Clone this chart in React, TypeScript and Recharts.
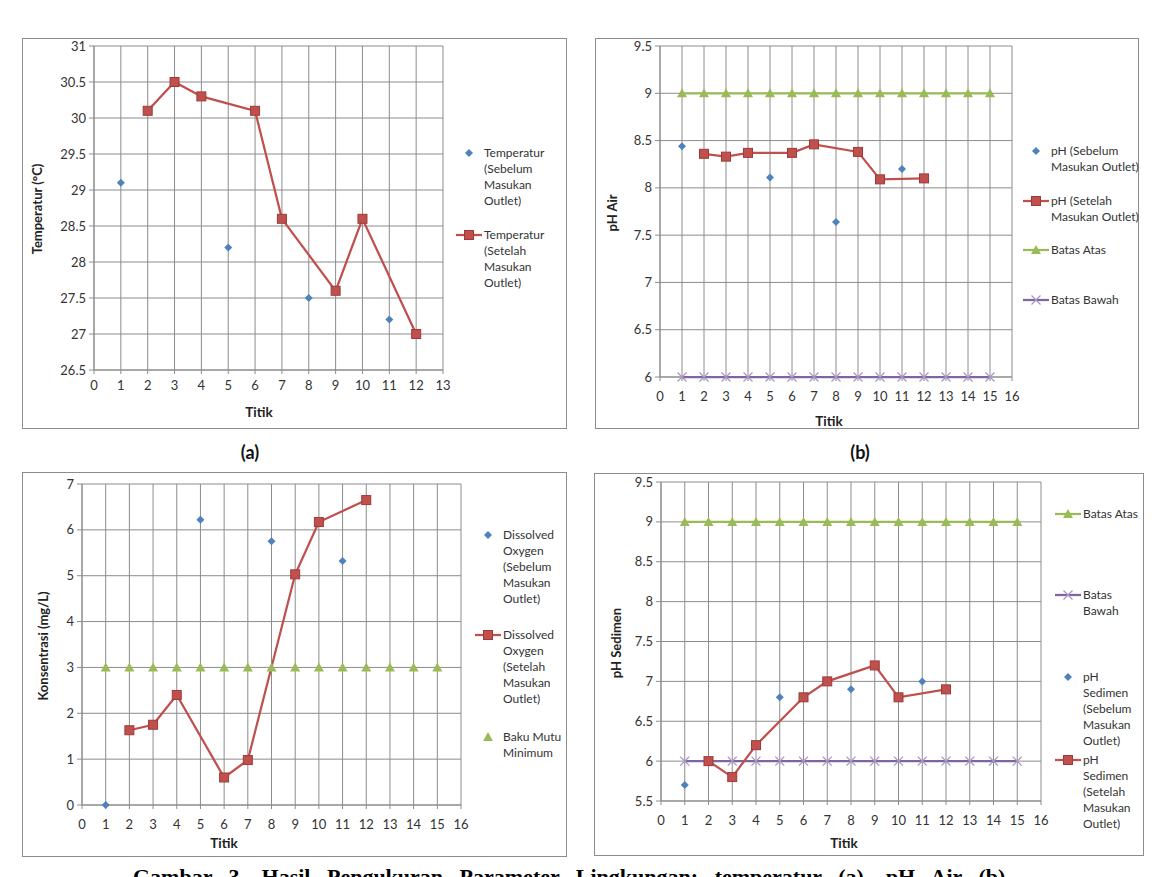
import React from "react";
import { ScatterChart, Scatter, XAxis, YAxis, CartesianGrid } from "recharts";

// titik pengukuran
const titikSebelum = [1, 5, 8, 11];
const titikSetelah = [2, 3, 4, 6, 7, 9, 10, 12];
const titikBatas = [1, 2, 3, 4, 5, 6, 7, 8, 9, 10, 11, 12, 13, 14, 15];

// (a) temperatur
const suhuSebelum = [29.1, 28.2, 27.5, 27.2];
const suhuSetelah = [30.1, 30.5, 30.3, 30.1, 28.6, 27.6, 28.6, 27.0];

// (b) pH air
const phAirSebelum = [8.44, 8.11, 7.64, 8.2];
const phAirSetelah = [8.36, 8.33, 8.37, 8.37, 8.46, 8.38, 8.09, 8.1];

// (c) dissolved oxygen
const doSebelum = [0, 6.22, 5.75, 5.32];
const doSetelah = [1.63, 1.75, 2.4, 0.6, 0.98, 5.03, 6.17, 6.65];
const bakuMutuDo = [3, 3, 3, 3, 3, 3, 3, 3, 3, 3, 3, 3, 3, 3, 3];

// (d) pH sedimen
const phSedimenSebelum = [5.7, 6.8, 6.9, 7.0];
const phSedimenSetelah = [6.0, 5.8, 6.2, 6.8, 7.0, 7.2, 6.8, 6.9];

// baku mutu pH
const batasAtas = [9, 9, 9, 9, 9, 9, 9, 9, 9, 9, 9, 9, 9, 9, 9];
const batasBawah = [6, 6, 6, 6, 6, 6, 6, 6, 6, 6, 6, 6, 6, 6, 6];

// sumbu
const ticksTitik13 = [0, 1, 2, 3, 4, 5, 6, 7, 8, 9, 10, 11, 12, 13];
const ticksTitik16 = [0, 1, 2, 3, 4, 5, 6, 7, 8, 9, 10, 11, 12, 13, 14, 15, 16];
const ticksSuhu = [26.5, 27, 27.5, 28, 28.5, 29, 29.5, 30, 30.5, 31];
const ticksPhAir = [6, 6.5, 7, 7.5, 8, 8.5, 9, 9.5];
const ticksDo = [0, 1, 2, 3, 4, 5, 6, 7];
const ticksPhSedimen = [5.5, 6, 6.5, 7, 7.5, 8, 8.5, 9, 9.5];

const BLUE = "#4F81BD";
const RED = "#C0504D";
const RED_DARK = "#9E3B38";
const GREEN = "#9BBB59";
const PURPLE = "#8064A2";
const LILAC = "#A897C2";
const GRID = "#8C8C8C";
const FONT = "Lato, 'Open Sans', sans-serif";

const pts = (xs: number[], ys: number[]) => xs.map((x, i) => ({ x, y: ys[i] }));

const Diamond = (p: any) => (
  <polygon
    points={`${p.cx},${p.cy - 4} ${p.cx + 4},${p.cy} ${p.cx},${p.cy + 4} ${p.cx - 4},${p.cy}`}
    fill={BLUE}
  />
);
const Square = (p: any) => (
  <rect x={p.cx - 4.5} y={p.cy - 4.5} width={9} height={9} fill={RED} stroke={RED_DARK} strokeWidth={1} />
);
const Triangle = (p: any) => (
  <polygon
    points={`${p.cx},${p.cy - 5} ${p.cx + 5},${p.cy + 4} ${p.cx - 5},${p.cy + 4}`}
    fill={GREEN}
  />
);
const Cross = (p: any) => (
  <g stroke={LILAC} strokeWidth={1.3}>
    <line x1={p.cx - 4.5} y1={p.cy - 4.5} x2={p.cx + 4.5} y2={p.cy + 4.5} />
    <line x1={p.cx - 4.5} y1={p.cy + 4.5} x2={p.cx + 4.5} y2={p.cy - 4.5} />
  </g>
);

type Seri = { data: { x: number; y: number }[]; shape: any; line?: string };
type Item = { shape: any; line?: string; y: number; lines: string[] };
type Box = { x: number; y: number; w: number; h: number };
type Plot = { l: number; t: number; r: number; b: number };

function Panel(props: {
  box: Box;
  plot: Plot;
  xTicks: number[];
  yTicks: number[];
  xGap: number;
  series: Seri[];
  yTitle: string;
  yTitleX: number;
  xTitleX: number;
  xTitleY: number;
  legendX: number;
  legend: Item[];
}) {
  const { box, plot, xTicks, yTicks, series, legend } = props;
  const w = box.w - 2;
  const h = box.h - 2;
  const tickStyle = { fontSize: 13, fill: "#333", fontFamily: FONT };
  return (
    <div
      style={{
        position: "absolute",
        left: box.x,
        top: box.y,
        width: box.w,
        height: box.h,
        border: "1px solid #8C8C8C",
        boxSizing: "border-box",
        background: "#fff",
      }}
    >
      <ScatterChart
        width={w}
        height={h}
        margin={{ top: plot.t - 1, right: w - (plot.r - 1), left: 0, bottom: 0 }}
      >
        <CartesianGrid stroke={GRID} strokeWidth={1} />
        <XAxis
          type="number"
          dataKey="x"
          domain={[xTicks[0], xTicks[xTicks.length - 1]]}
          ticks={xTicks}
          interval={0}
          height={h - (plot.b - 1)}
          tickSize={4}
          tickMargin={props.xGap}
          stroke={GRID}
          tick={tickStyle}
        />
        <YAxis
          type="number"
          dataKey="y"
          domain={[yTicks[0], yTicks[yTicks.length - 1]]}
          ticks={yTicks}
          interval={0}
          width={plot.l - 1}
          tickSize={5}
          tickMargin={3}
          stroke={GRID}
          tick={tickStyle}
        />
        {series.map((s, i) => (
          <Scatter
            key={i}
            data={s.data}
            shape={s.shape}
            line={s.line ? { stroke: s.line, strokeWidth: 2.25 } : false}
            lineType="joint"
            isAnimationActive={false}
          />
        ))}
      </ScatterChart>
      <div
        style={{
          position: "absolute",
          left: props.yTitleX - box.x,
          top: (plot.t + plot.b) / 2,
          transform: "translate(-50%, -50%) rotate(-90deg)",
          whiteSpace: "nowrap",
          fontFamily: FONT,
          fontWeight: 700,
          fontSize: 13,
          color: "#222",
        }}
      >
        {props.yTitle}
      </div>
      <div
        style={{
          position: "absolute",
          left: props.xTitleX - box.x,
          top: props.xTitleY - box.y,
          transform: "translate(-50%, -50%)",
          fontFamily: FONT,
          fontWeight: 700,
          fontSize: 13.5,
          color: "#222",
        }}
      >
        Titik
      </div>
      {legend.map((it, i) => (
        <div key={i}>
          <svg
            width={26}
            height={16}
            style={{ position: "absolute", left: props.legendX - 28, top: it.y - 8 }}
          >
            {it.line && <line x1={0} y1={8} x2={26} y2={8} stroke={it.line} strokeWidth={2.25} />}
            {it.shape({ cx: 13, cy: 8 })}
          </svg>
          <div
            style={{
              position: "absolute",
              left: props.legendX,
              top: it.y - 8,
              fontFamily: FONT,
              fontSize: 12,
              lineHeight: "16px",
              color: "#333",
              whiteSpace: "nowrap",
            }}
          >
            {it.lines.map((t, j) => (
              <div key={j}>{t}</div>
            ))}
          </div>
        </div>
      ))}
    </div>
  );
}

export default function App() {
  return (
    <div
      style={{
        position: "absolute",
        left: 0,
        top: 0,
        width: 1158,
        height: 877,
        overflow: "hidden",
        background: "#fff",
      }}
    >
      <Panel
        box={{ x: 22, y: 38, w: 545, h: 391 }}
        plot={{ l: 72, t: 8, r: 421, b: 332 }}
        xTicks={ticksTitik13}
        yTicks={ticksSuhu}
        xGap={7}
        series={[
          { data: pts(titikSebelum, suhuSebelum), shape: Diamond },
          { data: pts(titikSetelah, suhuSetelah), shape: Square, line: RED },
        ]}
        yTitle="Temperatur (°C)"
        yTitleX={36}
        xTitleX={258}
        xTitleY={411}
        legendX={461}
        legend={[
          { shape: Diamond, y: 114, lines: ["Temperatur", "(Sebelum", "Masukan", "Outlet)"] },
          { shape: Square, line: RED, y: 196, lines: ["Temperatur", "(Setelah", "Masukan", "Outlet)"] },
        ]}
      />
      <Panel
        box={{ x: 595, y: 38, w: 544, h: 391 }}
        plot={{ l: 65, t: 8, r: 417, b: 339 }}
        xTicks={ticksTitik16}
        yTicks={ticksPhAir}
        xGap={11}
        series={[
          { data: pts(titikSebelum, phAirSebelum), shape: Diamond },
          { data: pts(titikSetelah, phAirSetelah), shape: Square, line: RED },
          { data: pts(titikBatas, batasAtas), shape: Triangle, line: GREEN },
          { data: pts(titikBatas, batasBawah), shape: Cross, line: PURPLE },
        ]}
        yTitle="pH Air"
        yTitleX={611}
        xTitleX={828}
        xTitleY={420}
        legendX={455}
        legend={[
          { shape: Diamond, y: 112, lines: ["pH (Sebelum", "Masukan Outlet)"] },
          { shape: Square, line: RED, y: 162, lines: ["pH (Setelah", "Masukan Outlet)"] },
          { shape: Triangle, line: GREEN, y: 211, lines: ["Batas Atas"] },
          { shape: Cross, line: PURPLE, y: 261, lines: ["Batas Bawah"] },
        ]}
      />
      <Panel
        box={{ x: 22, y: 472, w: 545, h: 385 }}
        plot={{ l: 60, t: 12, r: 439, b: 333 }}
        xTicks={ticksTitik16}
        yTicks={ticksDo}
        xGap={11}
        series={[
          { data: pts(titikSebelum, doSebelum), shape: Diamond },
          { data: pts(titikSetelah, doSetelah), shape: Square, line: RED },
          { data: pts(titikBatas, bakuMutuDo), shape: Triangle },
        ]}
        yTitle="Konsentrasi (mg/L)"
        yTitleX={42}
        xTitleX={223}
        xTitleY={842}
        legendX={480}
        legend={[
          { shape: Diamond, y: 62, lines: ["Dissolved", "Oxygen", "(Sebelum", "Masukan", "Outlet)"] },
          { shape: Square, line: RED, y: 162, lines: ["Dissolved", "Oxygen", "(Setelah", "Masukan", "Outlet)"] },
          { shape: Triangle, y: 264, lines: ["Baku Mutu", "Minimum"] },
        ]}
      />
      <Panel
        box={{ x: 594, y: 473, w: 550, h: 383 }}
        plot={{ l: 67, t: 9, r: 447, b: 328 }}
        xTicks={ticksTitik16}
        yTicks={ticksPhSedimen}
        xGap={11}
        series={[
          { data: pts(titikBatas, batasAtas), shape: Triangle, line: GREEN },
          { data: pts(titikBatas, batasBawah), shape: Cross, line: PURPLE },
          { data: pts(titikSebelum, phSedimenSebelum), shape: Diamond },
          { data: pts(titikSetelah, phSedimenSetelah), shape: Square, line: RED },
        ]}
        yTitle="pH Sedimen"
        yTitleX={615}
        xTitleX={843}
        xTitleY={842}
        legendX={488}
        legend={[
          { shape: Triangle, line: GREEN, y: 40, lines: ["Batas Atas"] },
          { shape: Cross, line: PURPLE, y: 121, lines: ["Batas", "Bawah"] },
          { shape: Diamond, y: 203, lines: ["pH", "Sedimen", "(Sebelum", "Masukan", "Outlet)"] },
          { shape: Square, line: RED, y: 286, lines: ["pH", "Sedimen", "(Setelah", "Masukan", "Outlet)"] },
        ]}
      />
      <div
        style={{
          position: "absolute",
          left: 250,
          top: 452,
          transform: "translate(-50%, -50%)",
          fontFamily: FONT,
          fontWeight: 700,
          fontSize: 18,
          color: "#111",
        }}
      >
        (a)
      </div>
      <div
        style={{
          position: "absolute",
          left: 860,
          top: 452,
          transform: "translate(-50%, -50%)",
          fontFamily: FONT,
          fontWeight: 700,
          fontSize: 18,
          color: "#111",
        }}
      >
        (b)
      </div>
      <div
        style={{
          position: "absolute",
          left: 133,
          top: 866,
          fontFamily: "'Liberation Serif', 'Times New Roman', serif",
          fontWeight: 700,
          fontSize: 22,
          lineHeight: "22px",
          whiteSpace: "nowrap",
          wordSpacing: 11,
          color: "#000",
        }}
      >
        Gambar 3. Hasil Pengukuran Parameter Lingkungan: temperatur (a), pH Air (b),
      </div>
    </div>
  );
}
